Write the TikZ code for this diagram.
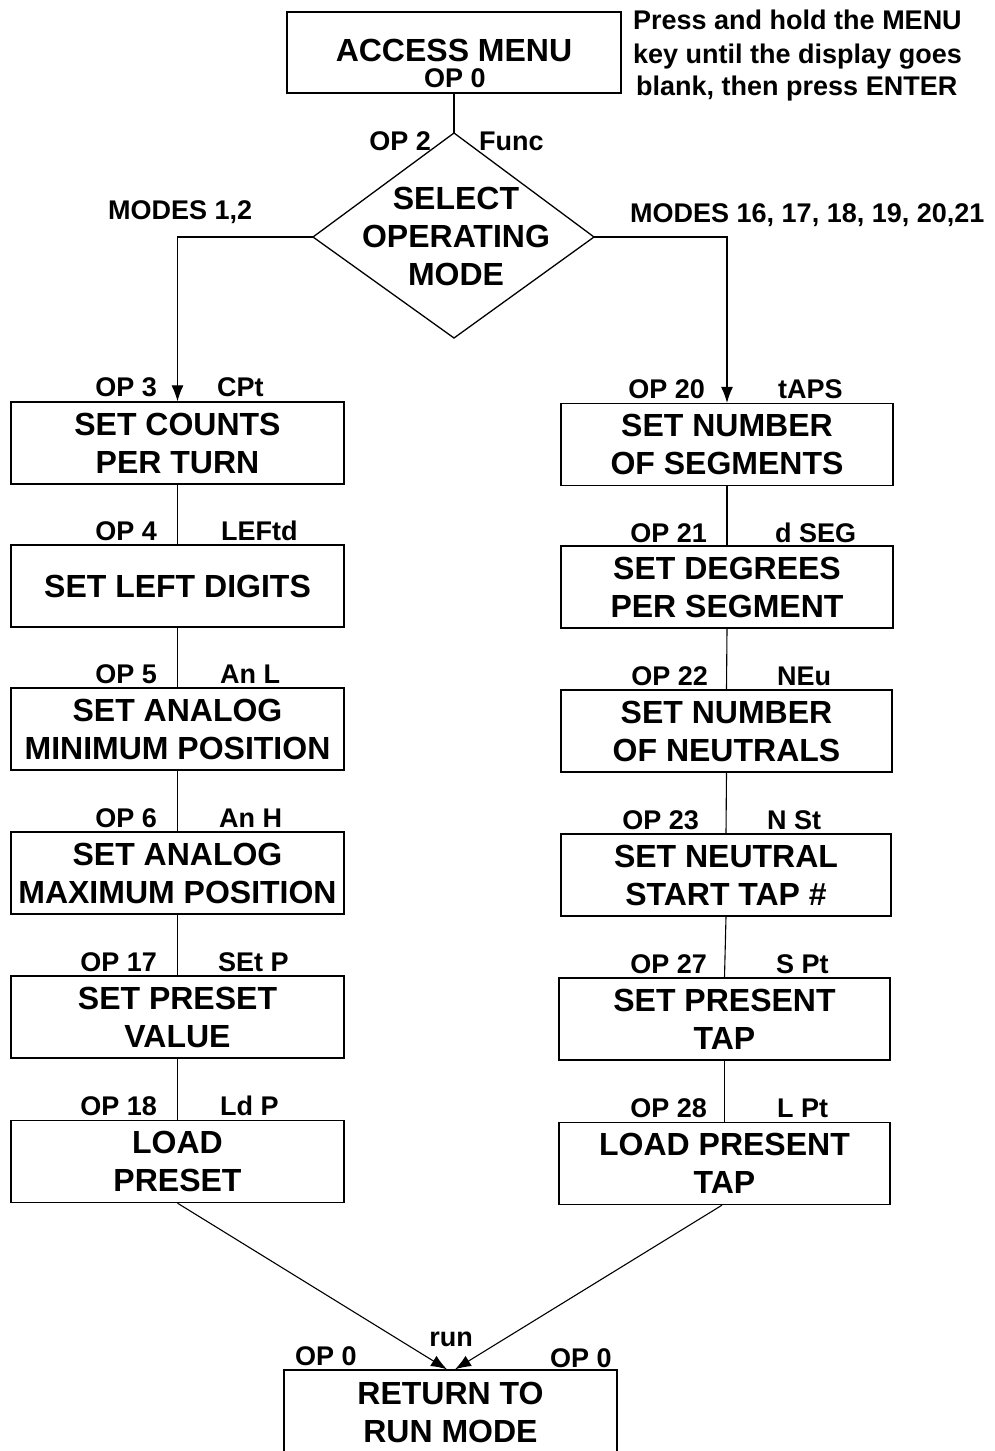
\documentclass[tikz,border=0pt]{standalone}
\usepackage{fontspec}
\setmainfont{Liberation Sans}
\usetikzlibrary{arrows.meta}
\begin{document}
\begin{tikzpicture}[x=1pt,y=-1pt,
  box/.style={draw,line width=1.3pt,inner sep=0pt,minimum width=333pt,minimum height=82pt,align=center,font=\bfseries\fontsize{32}{38}\selectfont},
  big/.style={inner sep=0pt,font=\bfseries\fontsize{32}{38}\selectfont},
  lab/.style={inner sep=0pt,font=\bfseries\fontsize{27}{33}\selectfont},
  conn/.style={line width=1.1pt},
  arr/.style={line width=1.1pt,-{Latex[length=16pt,width=12pt]}}]
\useasboundingbox (0,0) rectangle (995,1451);
% top
\node[draw,line width=1.3pt,minimum width=334pt,minimum height=81pt,inner sep=0pt] (A) at (454,52.5) {};
\node[big,anchor=base] (Atxt) at (454,61.5) {ACCESS MENU};
\node[lab,anchor=base] (Aop) at (455,87.5) {OP 0};
\node[lab,anchor=base west,align=left] (note1) at (633,29) {Press and hold the MENU};
\node[lab,anchor=base west] (note2) at (633,63) {key until the display goes};
\node[lab,anchor=base west] (note3) at (636,95) {blank, then press ENTER};
% diamond
\coordinate (Dt) at (454,133);
\coordinate (Dl) at (313,237);
\coordinate (Dr) at (594,237);
\coordinate (Db) at (454,338);
\draw[line width=1.3pt] (Dt)--(Dr)--(Db)--(Dl)--cycle;
\node[big,align=center] (D) at (456,236) {SELECT\\OPERATING\\MODE};
\draw[conn] (A.south) -- (Dt);
\node[lab,anchor=base east] (op2) at (431,150) {OP 2};
\node[lab,anchor=base west] (func) at (479,150) {Func};
\node[lab,anchor=base west] (m12) at (108,219) {MODES 1,2};
\node[lab,anchor=base west] (m16) at (630,222) {MODES 16, 17, 18, 19, 20,21};
% left column
\node[box] (L1) at (177.5,443) {SET COUNTS\\PER TURN};
\node[box] (L2) at (177.5,586) {SET LEFT DIGITS};
\node[box] (L3) at (177.5,729) {SET ANALOG\\MINIMUM POSITION};
\node[box] (L4) at (177.5,873) {SET ANALOG\\MAXIMUM POSITION};
\node[box] (L5) at (177.5,1017) {SET PRESET\\VALUE};
\node[box] (L6) at (177.5,1161.5) {LOAD\\PRESET};
% right column
\node[box,minimum width=332pt] (R1) at (727,444.5) {SET NUMBER\\OF SEGMENTS};
\node[box,minimum width=332pt] (R2) at (727,587) {SET DEGREES\\PER SEGMENT};
\node[box,minimum width=331pt] (R3) at (726.5,731) {SET NUMBER\\OF NEUTRALS};
\node[box,minimum width=330pt] (R4) at (726,875) {SET NEUTRAL\\START TAP \#};
\node[box,minimum width=331pt] (R5) at (724.5,1019) {SET PRESENT\\TAP};
\node[box,minimum width=331pt] (R6) at (724.5,1163.5) {LOAD PRESENT\\TAP};
% bottom
\node[box,minimum width=333pt,minimum height=84pt] (B) at (450.5,1412) {RETURN TO\\RUN MODE};
% connectors
\draw[arr] (Dl) -| (L1.north);
\draw[arr] (Dr) -| (R1.north);
\draw[conn] (L1.south) -- (L2.north);
\draw[conn] (L2.south) -- (L3.north);
\draw[conn] (L3.south) -- (L4.north);
\draw[conn] (L4.south) -- (L5.north);
\draw[conn] (L5.south) -- (L6.north);
\draw[conn] (R1.south) -- (R2.north);
\draw[conn] (R2.south) -- (R3.north);
\draw[conn] (R3.south) -- (R4.north);
\draw[conn] (R4.south) -- (R5.north);
\draw[conn] (R5.south) -- (R6.north);
\draw[arr] (L6.south) -- ([xshift=-3.5pt]B.north);
\draw[arr] ([xshift=-2.5pt]R6.south) -- ([xshift=4.5pt]B.north);
% left labels
\node[lab,anchor=base east] (lo1) at (157,396) {OP 3};
\node[lab,anchor=base west] (lc1) at (217,396) {CPt};
\node[lab,anchor=base east] (lo2) at (157,540) {OP 4};
\node[lab,anchor=base west] (lc2) at (221,540) {LEFtd};
\node[lab,anchor=base east] (lo3) at (157,683) {OP 5};
\node[lab,anchor=base west] (lc3) at (220,683) {An L};
\node[lab,anchor=base east] (lo4) at (157,827) {OP 6};
\node[lab,anchor=base west] (lc4) at (219,827) {An H};
\node[lab,anchor=base east] (lo5) at (157,971) {OP 17};
\node[lab,anchor=base west] (lc5) at (218,971) {SEt P};
\node[lab,anchor=base east] (lo6) at (157,1115) {OP 18};
\node[lab,anchor=base west] (lc6) at (220,1115) {Ld P};
% right labels
\node[lab,anchor=base east] (ro1) at (705,398) {OP 20};
\node[lab,anchor=base west] (rc1) at (778,398) {tAPS};
\node[lab,anchor=base east] (ro2) at (707,542) {OP 21};
\node[lab,anchor=base west] (rc2) at (775,542) {d SEG};
\node[lab,anchor=base east] (ro3) at (708,685) {OP 22};
\node[lab,anchor=base west] (rc3) at (777,685) {NEu};
\node[lab,anchor=base east] (ro4) at (699,829) {OP 23};
\node[lab,anchor=base west] (rc4) at (767,829) {N St};
\node[lab,anchor=base east] (ro5) at (707,973) {OP 27};
\node[lab,anchor=base west] (rc5) at (776,973) {S Pt};
\node[lab,anchor=base east] (ro6) at (707,1117) {OP 28};
\node[lab,anchor=base west] (rc6) at (777,1117) {L Pt};
% bottom labels
\node[lab,anchor=base] (run) at (451,1346) {run};
\node[lab,anchor=base west] (bo1) at (295,1365) {OP 0};
\node[lab,anchor=base west] (bo2) at (550,1367) {OP 0};
\end{tikzpicture}
\end{document}
